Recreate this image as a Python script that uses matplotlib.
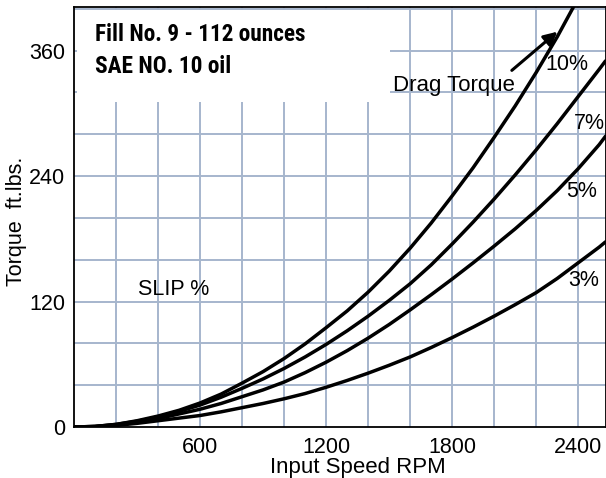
import matplotlib
matplotlib.use('Agg')
import matplotlib.pyplot as plt
from matplotlib import font_manager
from matplotlib.font_manager import FontProperties
from matplotlib.patches import Rectangle

# values (rpm, ft.lbs.)
rpm = [0, 100, 200, 300, 400, 500, 600, 700, 800, 900, 1000, 1100, 1200,
       1300, 1400, 1500, 1600, 1700, 1800, 1900, 2000, 2100, 2200, 2300,
       2400, 2500, 2530]
slip_10 = [0, 0.5, 2.5, 6, 10.5, 16, 23, 31.5, 42, 53, 65.5, 79.5, 95,
           111, 129, 149, 171, 195, 221, 248, 277, 307, 339, 373, 410]
slip_7 = [0, 0.5, 2.5, 5.5, 9.5, 15, 21, 28.5, 37, 46, 56, 67, 79, 92, 106,
          121, 137, 155, 175, 196, 218, 241, 265, 290, 316, 342, 350]
slip_5 = [0, 0.5, 2, 4.5, 8, 12.5, 17, 22.5, 29, 35.5, 43, 52, 62, 73, 85,
          98, 112, 126.5, 141.5, 157, 173, 189.5, 207, 226, 247, 270, 278]
slip_3 = [0, 0.3, 1.5, 3.5, 6, 8.5, 11, 14.5, 18.5, 22.5, 27, 32, 38, 44.5,
          51.5, 59, 67, 76, 85.5, 95.5, 106, 117, 128.5, 142, 157, 172, 177]

curves = [slip_10, slip_7, slip_5, slip_3]
curve_labels = ['10%', '7%', '5%', '3%']
label_pos = [(2348, 347), (2452, 290), (2414, 225), (2424, 140)]

x_ticks = [600, 1200, 1800, 2400]
y_ticks = [0, 120, 240, 360]
x_grid = list(range(200, 2401, 200))
y_grid = list(range(40, 401, 40))

GRID = '#a6b6cd'


def heading_font():
    fonts = font_manager.fontManager.ttflist
    for name in ['Roboto Condensed', 'Liberation Sans Narrow',
                 'DejaVu Sans Condensed', 'Open Sans Condensed']:
        for f in fonts:
            if f.name == name and f.weight in (700, 'bold'):
                return FontProperties(fname=f.fname)
    for f in fonts:
        if 'condensed' in str(f.stretch) and f.weight in (700, 'bold'):
            return FontProperties(fname=f.fname)
    return FontProperties(family='Liberation Sans', weight='bold')


def fit_width(fig, t, width_px):
    fig.canvas.draw()
    w = t.get_window_extent().width
    t.set_fontsize(t.get_fontsize() * width_px / w)


plt.rcParams['font.family'] = ['Liberation Sans', 'DejaVu Sans']

fig = plt.figure(figsize=(6.06, 4.78), dpi=100)
ax = fig.add_axes([73.5 / 606, 51 / 478, 532 / 606, 420 / 478])

ax.set_xlim(-3, 2530)
ax.set_ylim(0, 401.6)

for gx in x_grid:
    ax.axvline(gx, color=GRID, lw=1.4, zorder=0.5)
for gy in y_grid:
    ax.axhline(gy, color=GRID, lw=1.4, zorder=0.5)

# white area behind the heading
ax.add_patch(Rectangle((14, 310.8), 1491, 88, facecolor='white',
                       edgecolor='none', zorder=1))

for vals in curves:
    ax.plot(rpm[:len(vals)], vals, color='black', lw=2.5,
            solid_capstyle='round', zorder=2)

for txt, (tx, ty) in zip(curve_labels, label_pos):
    ax.text(tx, ty, txt, fontsize=15.5, ha='center', va='center', zorder=3)

ax.text(474, 131, 'SLIP %', fontsize=15.5, ha='center', va='center',
        zorder=3)
ax.text(1519, 321, 'Drag Torque', fontsize=16, ha='left', va='baseline',
        zorder=3)
ax.annotate('', xy=(2301, 378), xytext=(2084, 341),
            arrowprops=dict(arrowstyle='-|>', color='black', lw=2.2,
                            mutation_scale=20, shrinkA=0, shrinkB=0),
            zorder=3)

hfont = heading_font()
t1 = ax.text(100, 369.4, 'Fill No. 9 - 112 ounces', fontproperties=hfont,
             fontsize=16, va='baseline', zorder=3)
t2 = ax.text(100, 338.8, 'SAE NO. 10 oil', fontproperties=hfont,
             fontsize=16, va='baseline', zorder=3)

ax.set_xticks(x_ticks)
ax.set_yticks(y_ticks)
ax.tick_params(length=0, labelsize=15.5)
ax.tick_params(axis='x', pad=7)
ax.tick_params(axis='y', pad=6)
ax.set_xlabel('Input Speed RPM', fontsize=16)
ax.xaxis.set_label_coords(0.535, -0.071)
ax.xaxis.label.set_va('top')
ax.set_ylabel('Torque  ft.lbs.', fontsize=15.5)
ax.yaxis.set_label_coords(-0.088, 0.49)

for s in ax.spines.values():
    s.set_color('black')
    s.set_linewidth(1.3)
    s.set_zorder(4)

fit_width(fig, t1, 210)
t2.set_fontsize(t1.get_fontsize())

fig.savefig('out.png', dpi=100)
